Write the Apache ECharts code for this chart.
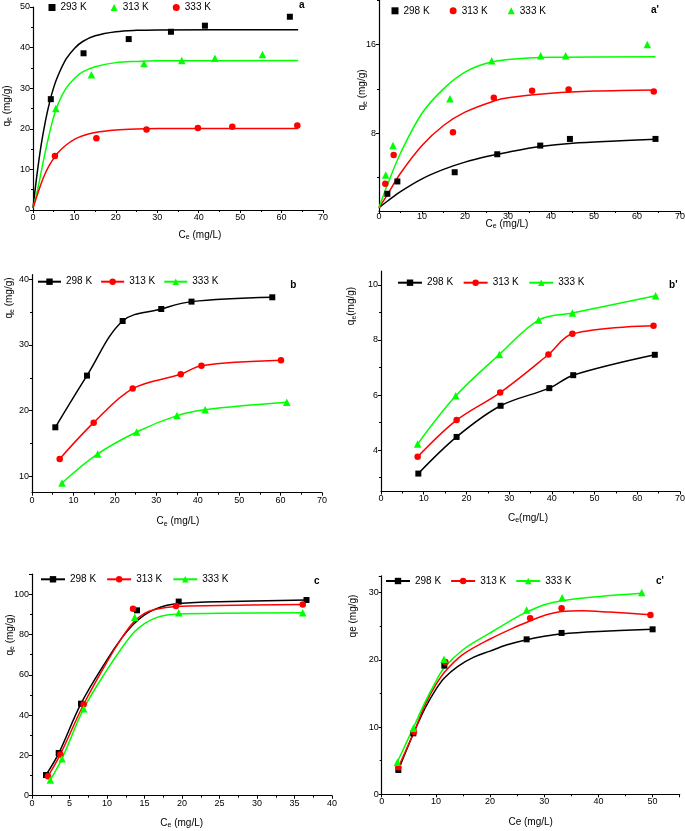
<!DOCTYPE html>
<html><head><meta charset="utf-8">
<script src="https://cdn.jsdelivr.net/npm/echarts@6/dist/echarts.min.js"></script>
<style>html,body{margin:0;padding:0;background:#fff}#c{width:685px;height:831px}</style>
</head><body><div id="c"></div>
<script>
// ---------- Panel a (points + fitted curves) ----------
const a293 = [[4.3,27.3],[12.2,38.6],[23.1,42.1],[33.3,43.9],[41.5,45.4],[62.0,47.6]];
const a313 = [[5.5,25.0],[14.1,33.3],[26.8,36.1],[35.9,36.8],[43.9,37.4],[55.4,38.3]];
const a333 = [[5.3,13.3],[15.3,17.7],[27.4,19.8],[39.8,20.2],[48.1,20.5],[63.8,20.8]];
const aFit293 = [[0,0.5],[1,9.0],[2,16.2],[3,21.9],[4,26.5],[5,30.2],[6,33.0],[8,37.2],[10,39.8],[12,41.5],[15,42.9],[20,43.9],[25,44.25],[30,44.35],[64,44.4]];
const aFit313 = [[0,0.5],[1,4.5],[2,9.5],[3,14.5],[4,19.0],[5,23.0],[6,26.0],[8,30.0],[10,32.4],[12,34.0],[15,35.3],[20,36.3],[25,36.6],[30,36.75],[64,36.8]];
const aFit333 = [[0,0.5],[1,3.6],[2,6.6],[3,9.1],[4,11.1],[5,12.7],[6,14.1],[8,16.0],[10,17.4],[12,18.3],[15,19.1],[20,19.7],[25,19.96],[30,20.05],[64,20.1]];
// ---------- Panel a' ----------
const ap298 = [[1.94,2.55],[4.27,3.66],[17.6,4.49],[27.5,6.11],[37.5,6.89],[44.4,7.49],[64.3,7.49]];
const ap313 = [[1.47,3.45],[3.41,6.05],[17.2,8.09],[26.7,11.2],[35.6,11.83],[44.1,11.95],[63.9,11.75]];
const ap333 = [[1.55,4.25],[3.26,6.89],[16.5,11.1],[26.2,14.53],[37.6,14.98],[43.4,14.98],[62.4,16.0]];
const apFit298 = [[0,1.3],[2,1.9],[5,2.75],[10,3.9],[15,4.75],[20,5.4],[25,5.9],[30,6.3],[37.5,6.8],[45,7.1],[55,7.3],[64.3,7.45]];
const apFit313 = [[0,1.3],[2,2.5],[5,4.4],[10,6.9],[15,8.7],[20,9.9],[26.7,10.9],[30,11.2],[40,11.6],[50,11.8],[64.3,11.9]];
const apFit333 = [[0,1.3],[2,3.4],[5,6.2],[10,9.8],[15,12.0],[20,13.5],[25,14.3],[30,14.65],[40,14.85],[64.3,14.9]];
// ---------- Panel b ----------
const b298 = [[5.63,17.46],[13.27,25.33],[21.88,33.65],[31.2,35.48],[38.5,36.6],[58.0,37.26]];
const b313 = [[6.68,12.64],[14.88,18.17],[24.3,23.35],[35.9,25.53],[40.9,26.85],[60.1,27.66]];
const b333 = [[7.24,8.98],[15.85,13.4],[25.26,16.75],[35.0,19.24],[41.8,20.15],[61.5,21.27]];
// ---------- Panel b' ----------
const bp298 = [[8.74,3.15],[17.7,4.48],[28.0,5.61],[39.4,6.25],[45.0,6.72],[64.1,7.46]];
const bp313 = [[8.58,3.76],[17.7,5.09],[27.9,6.09],[39.2,7.47],[44.8,8.22],[63.8,8.51]];
const bp333 = [[8.58,4.22],[17.5,5.97],[27.7,7.47],[36.9,8.72],[44.8,8.98],[64.3,9.6]];
// ---------- Panel c ----------
const c298 = [[1.87,10.26],[3.56,21.2],[6.53,45.7],[14.0,92.05],[19.56,96.4],[36.6,97.2]];
const c313 = [[2.13,9.6],[3.78,20.5],[6.89,45.4],[13.47,92.9],[19.2,94.2],[36.1,95.0]];
const c333 = [[2.44,7.8],[4.0,18.4],[6.89,43.2],[13.7,88.6],[19.56,90.9],[36.1,90.9]];
const cFit298 = [[1.87,10.3],[3.56,21],[6.53,45.7],[10,67.5],[12,78.5],[13.5,85],[15,89.8],[16.5,92.8],[18,94.6],[19.56,95.5],[25,96.3],[36.6,97.2]];
const cFit313 = [[2.13,9.6],[3.78,20.5],[6.89,45.4],[10,66.5],[12,78.5],[13.5,86],[15,90.5],[16.5,92.6],[19.2,94.0],[25,94.4],[36.1,95.0]];
const cFit333 = [[2.44,7.8],[4.0,18.4],[6.89,43.2],[10,62.5],[12,73.5],[13.7,81.5],[15,85.5],[16.5,88.3],[18,89.7],[19.56,90.2],[25,90.6],[36.1,90.9]];
// ---------- Panel c' ----------
const cp298 = [[3.07,3.62],[5.84,9.07],[11.56,19.14],[26.75,23.05],[33.2,24.0],[50.0,24.54]];
const cp313 = [[3.07,4.02],[5.97,9.32],[11.75,19.68],[27.4,26.18],[33.2,27.66],[49.6,26.67]];
const cp333 = [[2.89,4.76],[5.84,9.82],[11.5,20.08],[26.75,27.42],[33.3,29.25],[48.0,30.0]];
const cpFit298 = [[3.07,3.6],[5.84,9.0],[8,12.8],[10,15.6],[11.56,17.3],[14,19.0],[17,20.4],[20,21.3],[23,22.2],[26.75,23.0],[30,23.5],[33.2,23.85],[40,24.2],[50,24.55]];
const cpFit313 = [[3.07,4.0],[5.97,9.3],[8,13.3],[10,16.3],[11.75,18.3],[15,20.8],[20,23.1],[25,25.0],[27.4,25.8],[30,26.6],[33.2,27.2],[37,27.3],[42,27.1],[49.6,26.7]];
const cpFit333 = [[2.89,4.8],[5.84,9.9],[8,13.7],[10,16.8],[11.5,18.8],[15,21.5],[20,24.0],[25,26.4],[26.75,27.1],[30,28.2],[33.3,28.8],[40,29.4],[48,29.9]];

// tick label sets
const apYLabels = [8,16], apYMinor = [4,12,20];
const bYLabels = [10,20,30,40], bYMinor = [15,25,35];
const bpYLabels = [4,6,8,10], bpYMinor = [3,5,7,9];

const FONT = 'Liberation Sans';
const BLACK = '#000000', RED = '#ff0000', GREEN = '#00ff00';

function axisBase(extra) {
  return Object.assign({
    type: 'value',
    axisLine: {show: true, onZero: false, lineStyle: {color: '#000', width: 1.2}},
    axisTick: {show: true, inside: false, length: 3, lineStyle: {color: '#000', width: 1}},
    minorTick: {show: true, splitNumber: 2, length: 2, lineStyle: {color: '#000', width: 1}},
    splitLine: {show: false}, minorSplitLine: {show: false},
    axisLabel: {fontFamily: FONT, fontSize: 9, color: '#000', margin: 3}
  }, extra);
}
function customY(grid, min, max, labels) {
  const ax = axisBase({gridIndex: grid, min: min, max: max, position: 'left'});
  ax.axisTick = {show: true, inside: false, length: 3, customValues: labels, lineStyle: {color: '#000', width: 1}};
  ax.axisLabel = {fontFamily: FONT, fontSize: 9, color: '#000', margin: 3, customValues: labels};
  ax.minorTick = {show: false};
  return ax;
}
function minorY(grid, min, max, vals) {
  return {type: 'value', gridIndex: grid, min: min, max: max, position: 'left', offset: 0,
    axisLine: {show: false}, splitLine: {show: false}, axisLabel: {show: false},
    axisTick: {show: true, inside: false, length: 2, customValues: vals, lineStyle: {color: '#000', width: 1}}};
}

const grids = [
  {left: 33, top: 7, width: 290, height: 203},
  {left: 379, top: 0, width: 301, height: 211},
  {left: 32, top: 274.7, width: 290, height: 218},
  {left: 381, top: 271, width: 299, height: 220.5},
  {left: 32, top: 574.2, width: 300, height: 221.5},
  {left: 381.7, top: 575.8, width: 298, height: 218.5}
].map(g => Object.assign({containLabel: false, outerBoundsMode: 'none'}, g));

const xAxes = [
  axisBase({gridIndex: 0, min: 0, max: 70, interval: 10}),
  axisBase({gridIndex: 1, min: 0, max: 70, interval: 10}),
  axisBase({gridIndex: 2, min: 0, max: 70, interval: 10}),
  axisBase({gridIndex: 3, min: 0, max: 70, interval: 10}),
  axisBase({gridIndex: 4, min: 0, max: 40, interval: 5}),
  axisBase({gridIndex: 5, min: 0, max: 55, interval: 10})
];
xAxes[1].axisLabel.margin = 1;
xAxes[5].axisLabel.showMaxLabel = false;

const yAxes = [
  axisBase({gridIndex: 0, min: 0, max: 50, interval: 10}),
  customY(1, 1, 20, apYLabels),
  customY(2, 7.5, 40.7, bYLabels),
  customY(3, 2.5, 10.5, bpYLabels),
  axisBase({gridIndex: 4, min: 0, max: 110, interval: 20}),
  axisBase({gridIndex: 5, min: 0, max: 32.5, interval: 10}),
  minorY(1, 1, 20, apYMinor),
  minorY(2, 7.5, 40.7, bYMinor),
  minorY(3, 2.5, 10.5, bpYMinor)
];
yAxes[4].axisLabel.showMaxLabel = false;
yAxes[5].axisLabel.showMaxLabel = false;

const SYM = {rect: 6, circle: 6.5, triangle: 7.5};
function scat(name, p, data, sym, color) {
  return {type: 'scatter', name: name, xAxisIndex: p, yAxisIndex: p, data: data,
    symbol: sym, symbolSize: SYM[sym], itemStyle: {color: color, opacity: 1}, z: 5, silent: true};
}
function fit(name, p, data, color, sym) {
  return {type: 'line', name: name, xAxisIndex: p, yAxisIndex: p, data: data,
    smooth: 0.35, showSymbol: false, symbol: sym || 'none', lineStyle: {color: color, width: 1.5},
    itemStyle: {color: color}, z: 3, silent: true, animation: false};
}
function lineSym(name, p, data, sym, color) {
  return {type: 'line', name: name, xAxisIndex: p, yAxisIndex: p, data: data,
    smooth: 0.35, showSymbol: true, symbol: sym, symbolSize: SYM[sym],
    lineStyle: {color: color, width: 1.5}, itemStyle: {color: color}, z: 4, silent: true};
}

const series = [
  // a
  fit('fa293', 0, aFit293, BLACK), fit('fa313', 0, aFit313, GREEN), fit('fa333', 0, aFit333, RED),
  scat('a|293 K', 0, a293, 'rect', BLACK), scat('a|313 K', 0, a313, 'triangle', GREEN), scat('a|333 K', 0, a333, 'circle', RED),
  // a'
  fit('fap298', 1, apFit298, BLACK), fit('fap313', 1, apFit313, RED), fit('fap333', 1, apFit333, GREEN),
  scat('ap|298 K', 1, ap298, 'rect', BLACK), scat('ap|313 K', 1, ap313, 'circle', RED), scat('ap|333 K', 1, ap333, 'triangle', GREEN),
  // b
  lineSym('b|298 K', 2, b298, 'rect', BLACK), lineSym('b|313 K', 2, b313, 'circle', RED), lineSym('b|333 K', 2, b333, 'triangle', GREEN),
  // b'
  lineSym('bp|298 K', 3, bp298, 'rect', BLACK), lineSym('bp|313 K', 3, bp313, 'circle', RED), lineSym('bp|333 K', 3, bp333, 'triangle', GREEN),
  // c
  fit('c|298 K', 4, cFit298, BLACK, 'rect'), fit('c|313 K', 4, cFit313, RED, 'circle'), fit('c|333 K', 4, cFit333, GREEN, 'triangle'),
  scat('pc298', 4, c298, 'rect', BLACK), scat('pc313', 4, c313, 'circle', RED), scat('pc333', 4, c333, 'triangle', GREEN),
  // c'
  fit('cp|298 K', 5, cpFit298, BLACK, 'rect'), fit('cp|313 K', 5, cpFit313, RED, 'circle'), fit('cp|333 K', 5, cpFit333, GREEN, 'triangle'),
  scat('pcp298', 5, cp298, 'rect', BLACK), scat('pcp313', 5, cp313, 'circle', RED), scat('pcp333', 5, cp333, 'triangle', GREEN)
];

function mkLegend(names, left, top, gap, iw, ih) {
  return {data: names, left: left, top: top, orient: 'horizontal', itemGap: gap,
    itemWidth: iw, itemHeight: ih, padding: 0, selectedMode: false,
    formatter: n => n.split('|')[1],
    textStyle: {fontFamily: FONT, fontSize: 10, color: '#000'}};
}
const legends = [
  mkLegend(['a|293 K', 'a|313 K', 'a|333 K'], 48.5, 2.5, 24, 7, 7),
  mkLegend(['ap|298 K', 'ap|313 K', 'ap|333 K'], 391.5, 5.8, 20, 7, 7),
  mkLegend(['b|298 K', 'b|313 K', 'b|333 K'], 37, 276.7, 8, 23, 8),
  mkLegend(['bp|298 K', 'bp|313 K', 'bp|333 K'], 397, 277.7, 9.5, 24, 8),
  mkLegend(['c|298 K', 'c|313 K', 'c|333 K'], 40, 574.3, 10, 24, 8),
  mkLegend(['cp|298 K', 'cp|313 K', 'cp|333 K'], 385, 576, 9, 24, 8)
];

const RICH = {s: {fontSize: 7, fontFamily: FONT, padding: [5, 0, 0, 0]}, n: {fontSize: 10, fontFamily: FONT}};
function label(x, y, text, rot) {
  return {type: 'text', x: x, y: y, rotation: rot ? Math.PI / 2 : 0, silent: true,
    style: {text: text, fontFamily: FONT, fontSize: 10, fill: '#000', textAlign: 'center', textVerticalAlign: 'middle', rich: RICH}};
}
function tag(x, y, text) {
  return {type: 'text', x: x, y: y, silent: true,
    style: {text: text, fontFamily: FONT, fontSize: 10, fontWeight: 'bold', fill: '#000', textAlign: 'center', textVerticalAlign: 'middle'}};
}
const graphics = [
  label(7, 106, '{n|q}{s|e}{n| (mg/g)}', true),
  label(362.7, 90, '{n|q}{s|e}{n| (mg/g)}', true),
  label(9.3, 298, '{n|q}{s|e}{n| (mg/g)}', true),
  label(351.7, 306, '{n|q}{s|e}{n|(mg/g)}', true),
  label(10, 635, '{n|q}{s|e}{n| (mg/g)}', true),
  label(353, 616, 'qe (mg/g)', true),
  label(200, 235, '{n|C}{s|e}{n| (mg/L)}'),
  label(507, 224, '{n|C}{s|e}{n| (mg/L)}'),
  label(178, 521.7, '{n|C}{s|e}{n| (mg/L)}'),
  label(528, 518, '{n|C}{s|e}{n|(mg/L)}'),
  label(181.7, 823, '{n|C}{s|e}{n| (mg/L)}'),
  label(530.7, 822.7, 'Ce (mg/L)'),
  tag(301.7, 5, 'a'), tag(655, 10, "a'"), tag(293.3, 285, 'b'),
  tag(673.3, 285, "b'"), tag(316.7, 581.7, 'c'), tag(660, 581.7, "c'")
];

const chart = echarts.init(document.getElementById('c'), null, {renderer: 'canvas'});
chart.setOption({
  animation: false,
  backgroundColor: '#ffffff',
  textStyle: {fontFamily: FONT},
  grid: grids, xAxis: xAxes, yAxis: yAxes, series: series, legend: legends, graphic: graphics
});
</script></body></html>
